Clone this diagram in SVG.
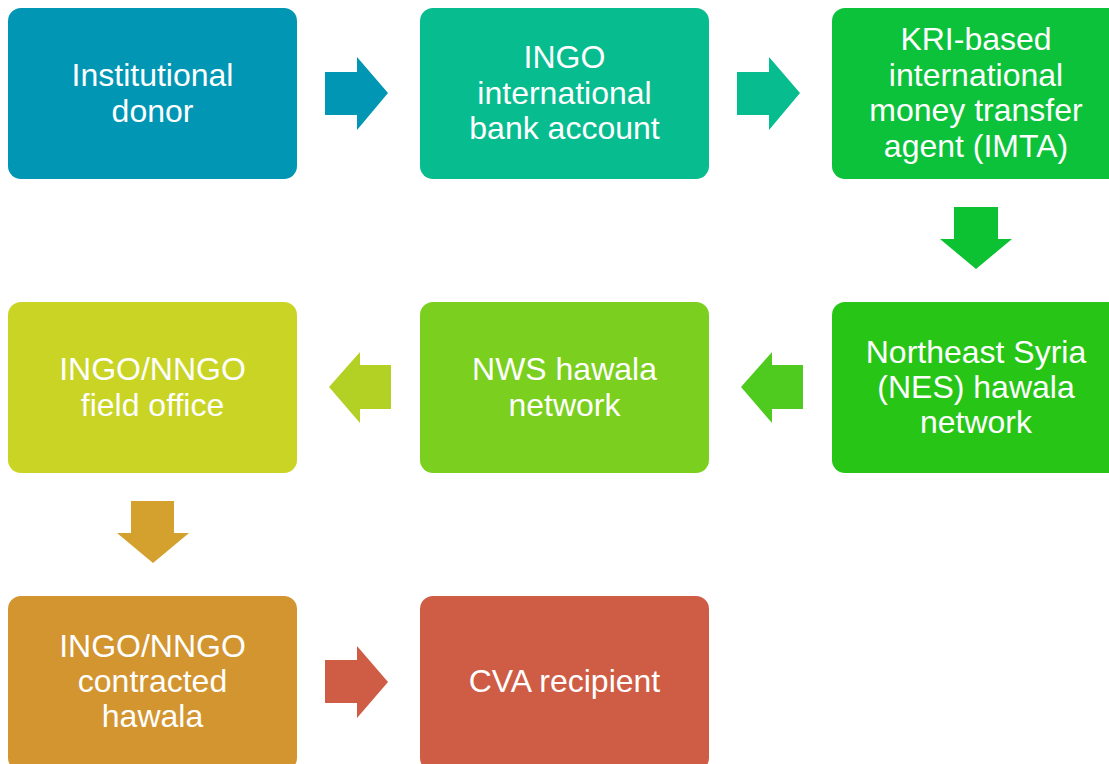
<svg xmlns="http://www.w3.org/2000/svg" width="1109" height="764" viewBox="0 0 1109 764">
  <style>
    .box { stroke: none; }
    .lbl { font-family: "Liberation Sans", Arial, sans-serif; font-size: 32px; fill: #ffffff; text-anchor: middle; }
  </style>
  <rect width="1109" height="764" fill="#ffffff"/>

  <!-- flow arrows -->
  <g id="connectors">
    <polygon points="325,72 357,72 357,57 388,93 357,130 357,115 325,115" fill="#0096B4"/>
    <polygon points="737,72 769,72 769,57 800,93 769,130 769,115 737,115" fill="#07BC8E"/>
    <polygon points="954,207 998,207 998,239 1012,239 976,269 940,239 954,239" fill="#0CC232"/>
    <polygon points="803,365 772,365 772,352 741,387 772,423 772,409 803,409" fill="#4FCB1F"/>
    <polygon points="391,365 360,365 360,352 329,387 360,423 360,409 391,409" fill="#B3D024"/>
    <polygon points="131,501 174,501 174,533 189,533 153,563 117,533 131,533" fill="#D4A02E"/>
    <polygon points="325,660 357,660 357,646 388,682 357,718 357,703 325,703" fill="#CF5C44"/>
  </g>

  <g id="donor">
    <rect class="box" x="8" y="8" width="289" height="171" rx="13" fill="#0096B4"/>
    <text class="lbl" x="152.5"><tspan x="152.5" y="86">Institutional</tspan><tspan x="152.5" y="122">donor</tspan></text>
  </g>

  <g id="ingo-bank">
    <rect class="box" x="420" y="8" width="289" height="171" rx="13" fill="#07BC8F"/>
    <text class="lbl"><tspan x="564.5" y="68">INGO</tspan><tspan x="564.5" y="104">international</tspan><tspan x="564.5" y="139">bank account</tspan></text>
  </g>

  <g id="imta">
    <rect class="box" x="832" y="8" width="289" height="171" rx="13" fill="#0CC23A"/>
    <text class="lbl"><tspan x="976" y="50">KRI-based</tspan><tspan x="976" y="86">international</tspan><tspan x="976" y="121">money transfer</tspan><tspan x="976" y="157">agent (IMTA)</tspan></text>
  </g>

  <g id="nes-hawala">
    <rect class="box" x="832" y="302" width="289" height="171" rx="13" fill="#27C616"/>
    <text class="lbl"><tspan x="976" y="363">Northeast Syria</tspan><tspan x="976" y="398">(NES) hawala</tspan><tspan x="976" y="433">network</tspan></text>
  </g>

  <g id="nws-hawala">
    <rect class="box" x="420" y="302" width="289" height="171" rx="13" fill="#7BCF1E"/>
    <text class="lbl"><tspan x="564.5" y="380">NWS hawala</tspan><tspan x="564.5" y="416">network</tspan></text>
  </g>

  <g id="field-office">
    <rect class="box" x="8" y="302" width="289" height="171" rx="13" fill="#C9D424"/>
    <text class="lbl"><tspan x="152.5" y="380">INGO/NNGO</tspan><tspan x="152.5" y="416">field office</tspan></text>
  </g>

  <g id="contracted-hawala">
    <rect class="box" x="8" y="596" width="289" height="175" rx="13" fill="#D3952F"/>
    <text class="lbl"><tspan x="152.5" y="657">INGO/NNGO</tspan><tspan x="152.5" y="692">contracted</tspan><tspan x="152.5" y="727">hawala</tspan></text>
  </g>

  <g id="cva-recipient">
    <rect class="box" x="420" y="596" width="289" height="175" rx="13" fill="#CF5C44"/>
    <text class="lbl"><tspan x="564.5" y="692">CVA recipient</tspan></text>
  </g>
</svg>
